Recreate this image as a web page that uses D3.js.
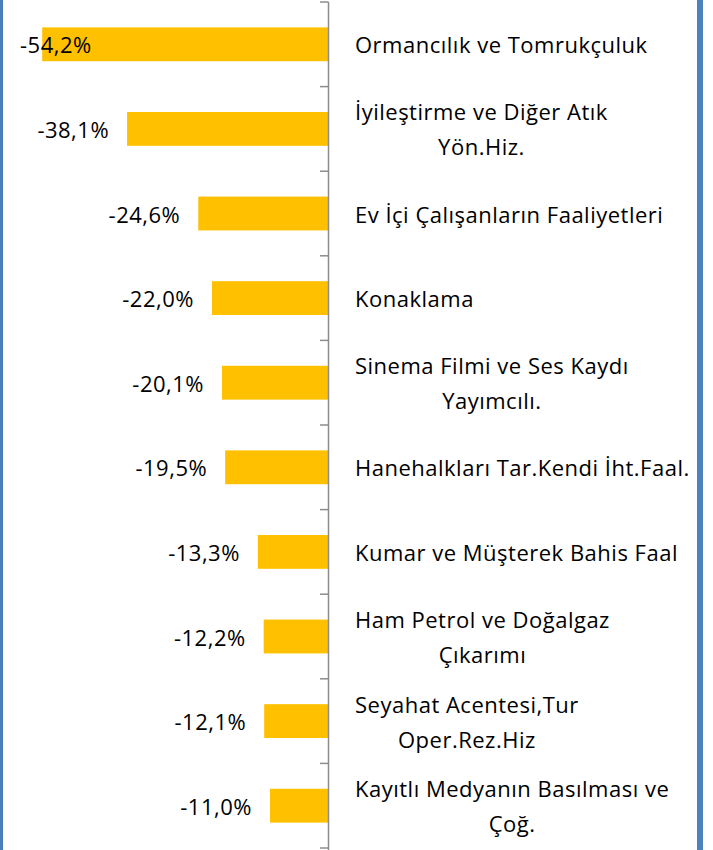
<!DOCTYPE html>
<html>
<head>
<meta charset="utf-8">
<script src="https://cdn.jsdelivr.net/npm/d3@7"></script>
<style>
  body { margin: 0; background: #fff; }
  svg { display: block; }
  text { font-family: "Open Sans", "Noto Sans", sans-serif; fill: #000; letter-spacing: 0.5px; }
</style>
</head>
<body>
<div id="grafico"></div>
<script>
// Datos: sectores (lineas de la etiqueta) y variacion en %
const sectores = [
  ["Ormancılık ve Tomrukçuluk"],
  ["İyileştirme ve Diğer Atık", "Yön.Hiz."],
  ["Ev İçi Çalışanların Faaliyetleri"],
  ["Konaklama"],
  ["Sinema Filmi ve Ses Kaydı", "Yayımcılı."],
  ["Hanehalkları Tar.Kendi İht.Faal."],
  ["Kumar ve Müşterek Bahis Faal"],
  ["Ham Petrol ve Doğalgaz", "Çıkarımı"],
  ["Seyahat Acentesi,Tur", "Oper.Rez.Hiz"],
  ["Kayıtlı Medyanın Basılması ve", "Çoğ."]
];
const valores = [-54.2, -38.1, -24.6, -22.0, -20.1, -19.5, -13.3, -12.2, -12.1, -11.0];

const WIDTH = 713;
const HEIGHT = 850;
const ejeX = 328;      // posicion del eje vertical
const etiquetaX = 355; // inicio de las etiquetas de categoria
const tamFuente = 22;

var svg = d3.select("#grafico")
  .append("svg")
  .attr("width", WIDTH)
  .attr("height", HEIGHT);

var ids = sectores.map((d, i) => i);

var x = d3.scaleLinear()
  .domain([-62.2, 0])
  .range([0, ejeX]);

var y = d3.scaleBand()
  .domain(ids)
  .range([2, 848])
  .paddingInner(0.6)
  .paddingOuter(0.3);

var formato = d3.formatLocale({ decimal: ",", thousands: ".", grouping: [3], currency: ["", ""], minus: "-" })
  .format(".1f");

// barras
svg.selectAll("rect.barra")
  .data(valores)
  .enter()
  .append("rect")
  .attr("class", "barra")
  .attr("x", d => x(d))
  .attr("y", (d, i) => y(i))
  .attr("width", d => x(0) - x(d))
  .attr("height", y.bandwidth())
  .attr("fill", "#FFC000");

// eje vertical con marcas entre categorias
var limites = ids.map(i => y(i) - y.step() * y.paddingInner() / 2)
  .concat([y(ids.length - 1) + y.bandwidth() + y.step() * y.paddingInner() / 2]);

svg.append("line")
  .attr("x1", ejeX + 0.5).attr("x2", ejeX + 0.5)
  .attr("y1", limites[0]).attr("y2", HEIGHT)
  .attr("stroke", "#8c8c8c")
  .attr("stroke-width", 1.5);

svg.selectAll("line.marca")
  .data(limites)
  .enter()
  .append("line")
  .attr("class", "marca")
  .attr("x1", ejeX - 8).attr("x2", ejeX + 0.5)
  .attr("y1", d => d).attr("y2", d => d)
  .attr("stroke", "#8c8c8c")
  .attr("stroke-width", 1.5);

// etiquetas de valor
svg.selectAll("text.valor")
  .data(valores)
  .enter()
  .append("text")
  .attr("class", "valor")
  .attr("text-anchor", "end")
  .attr("dominant-baseline", "central")
  .attr("y", (d, i) => y(i) + y.bandwidth() / 2)
  .style("font-size", tamFuente + "px")
  .text(d => formato(d) + "%")
  .attr("x", function(d) {
    var ancho = this.getComputedTextLength();
    return Math.max(x(d) - 18, 20 + ancho);
  });

// etiquetas de categoria (bloque alineado a la izquierda, lineas centradas)
var grupos = svg.selectAll("g.categoria")
  .data(sectores)
  .enter()
  .append("g")
  .attr("class", "categoria");

grupos.each(function(lineas, i) {
  var g = d3.select(this);
  var centro = y(i) + y.bandwidth() / 2;
  var interlinea = 35;
  var textos = lineas.map(function(l, k) {
    return g.append("text")
      .attr("dominant-baseline", "central")
      .attr("text-anchor", "middle")
      .attr("y", centro + (k - (lineas.length - 1) / 2) * interlinea)
      .style("font-size", tamFuente + "px")
      .text(l);
  });
  var maxAncho = d3.max(textos, t => t.node().getComputedTextLength());
  textos.forEach(t => t.attr("x", etiquetaX + maxAncho / 2));
});

// bordes azules
svg.append("rect")
  .attr("x", 0).attr("y", 0)
  .attr("width", 3).attr("height", HEIGHT)
  .attr("fill", "#4a7ebb");

svg.append("rect")
  .attr("x", 697).attr("y", 0)
  .attr("width", 6).attr("height", HEIGHT)
  .attr("fill", "#4f81bd");
</script>
</body>
</html>
